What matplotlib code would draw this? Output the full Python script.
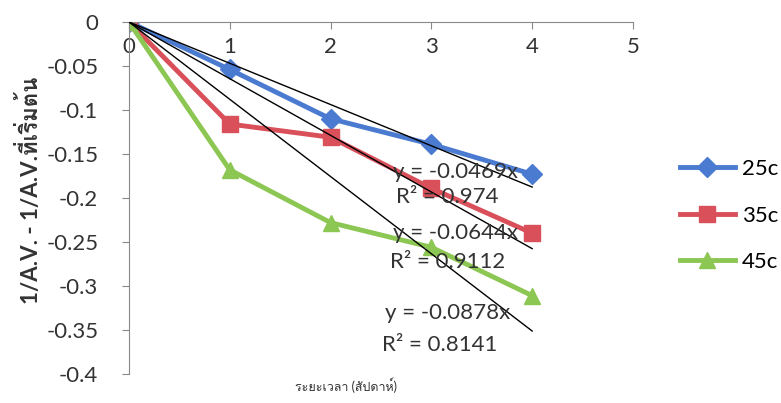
import matplotlib
matplotlib.use('Agg')
import matplotlib.pyplot as plt
from matplotlib import font_manager
from matplotlib.ft2font import FT2Font

# weeks of storage and change in 1/A.V. for each temperature
weeks      = [0, 1, 2, 3, 4]
series     = ['25c', '35c', '45c']
delta_25c  = [0, -0.054, -0.110, -0.139, -0.173]
delta_35c  = [0, -0.116, -0.131, -0.189, -0.240]
delta_45c  = [0, -0.168, -0.228, -0.256, -0.311]
slopes     = [-0.0469, -0.0644, -0.0878]
r_squared  = ['0.974', '0.9112', '0.8141']
# (x, y of equation, y of R²) for each trendline label
label_pos  = [(3.24, -0.170, -0.199), (3.24, -0.240, -0.273), (3.16, -0.331, -0.367)]

yticks = [0, -0.05, -0.1, -0.15, -0.2, -0.25, -0.3, -0.35, -0.4]
ylabels = ['0', '-0.05', '-0.1', '-0.15', '-0.2', '-0.25', '-0.3', '-0.35', '-0.4']

def thai_family():
	for f in font_manager.fontManager.ttflist:
		try:
			if 0x0E23 in FT2Font(f.fname).get_charmap():
				return f.name
		except Exception:
			pass
	return None

thai = thai_family()
families = ['Lato', 'DejaVu Sans'] + ([thai] if thai else [])
plt.rcParams['font.family'] = families

colors  = ['#4a7bd0', '#d9505a', '#8cc653']
markers = ['D', 's', '^']
sizes   = [10, 12, 12]
txt = '#333333'

fig = plt.figure(figsize=(7.81, 4.03), dpi=100)
ax = fig.add_axes([0.165, 0.072, 0.6455, 0.8735])

for name, vals, c, m, ms in zip(series, [delta_25c, delta_35c, delta_45c], colors, markers, sizes):
	ax.plot(weeks, vals, color=c, lw=3.5, marker=m, markersize=ms, label=name, zorder=2)

for k, (s, r2) in enumerate(zip(slopes, r_squared)):
	ax.plot([weeks[0], weeks[-1]], [0, s * weeks[-1]], color='black', lw=1.0, zorder=3)
	x, y1, y2 = label_pos[k]
	ax.text(x, y1, f'y = {s}x', ha='center', va='center', fontsize=16, color=txt, zorder=4)
	ax.text(x - 0.08, y2, f'R² = {r2}', ha='center', va='center', fontsize=16, color=txt, zorder=4)

ax.set_xlim(0, 5)
ax.set_ylim(-0.4, 0)
ax.set_xticks(range(6))
ax.set_yticks(yticks)
ax.set_yticklabels(ylabels)

ax.spines['bottom'].set_position(('data', 0))
ax.spines['top'].set_visible(False)
ax.spines['right'].set_visible(False)
for sp in ['bottom', 'left']:
	ax.spines[sp].set_color('#888888')
ax.tick_params(axis='both', colors='#888888', labelcolor=txt, labelsize=16, length=5)
ax.tick_params(axis='x', pad=6)
ax.tick_params(axis='y', pad=17)

fig.text(30 / 781, 1 - 190 / 403, '1/A.V. - 1/A.V.ที่เริ่มต้น', rotation=90, ha='center', va='center',
         fontsize=16, fontweight='bold', color=txt)
fig.text(346 / 781, 1 - 385 / 403, 'ระยะเวลา (สัปดาห์)', ha='center', va='center', fontsize=9, color=txt)

ax.legend(loc='center left', bbox_to_anchor=(1.075, 0.45), borderaxespad=0, frameon=False, fontsize=16,
          handlelength=2.5, labelspacing=1.2, handletextpad=0.3)

plt.savefig('out.png', dpi=100)
